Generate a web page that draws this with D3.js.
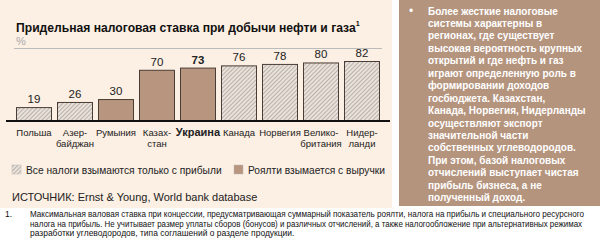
<!DOCTYPE html>
<html>
<head>
<meta charset="utf-8">
<script src="https://cdn.jsdelivr.net/npm/d3@7"></script>
<style>
  body { margin: 0; background: #fff; }
  svg { display: block; font-family: "Liberation Sans", Arial, sans-serif; }
</style>
</head>
<body>
<svg id="chart" width="600" height="245"></svg>
<script>
// chart data
const countries = ["Польша", "Азер-|байджан", "Румыния", "Казах-|стан", "Украина", "Канада", "Норвегия", "Велико-|британия", "Нидер-|ланди"]
const values = [19, 26, 30, 70, 73, 76, 78, 80, 82]
const royalty = [false, false, true, true, true, false, false, false, false]
const highlight = "Украина"

const legendLabels = ["Все налоги взымаются только с прибыли", "Роялти взымается с выручки"]
const titleText = "Придельная налоговая ставка при добычи нефти и газа"
const sourceText = "ИСТОЧНИК: Ernst & Young, World bank database"

const sideText = [
    "Более жесткие налоговые",
    "системы характерны в",
    "регионах, где существует",
    "высокая вероятность крупных",
    "открытий и где нефть и газ",
    "играют определенную роль в",
    "формировании доходов",
    "госбюджета. Казахстан,",
    "Канада, Норвегия, Нидерланды",
    "осуществляют экспорт",
    "значительной части",
    "собственных углеводородов.",
    "При этом, базой налоговых",
    "отчислений выступает чистая",
    "прибыль бизнеса, а не",
    "полученный доход."
]

const footnote = [
    "Максимальная валовая ставка при концессии, предусматривающая суммарный показатель роялти, налога на прибыль и специального ресурсного",
    "налога на прибыль. Не учитывает размер уплаты сборов (бонусов) и различных отчислений, а также налогообложение при альтернативных режимах",
    "разработки углеводородов, типа соглашений о разделе продукции."
]

const brown = "#b5947e"
const svg = d3.select("#chart")

// squeeze a text horizontally so it is `w` wide, anchored at (x, y)
function fit(sel, x, y, w) {
    sel.each(function() {
        const len = this.getComputedTextLength()
        const sx = Math.min(1, w / len)
        d3.select(this).attr("x", 0).attr("y", 0)
            .attr("transform", `translate(${x},${y}) scale(${sx},1)`)
    })
}

// hatch pattern for profit-only bars
const defs = svg.append("defs")
const pat = defs.append("pattern")
    .attr("id", "hatch")
    .attr("patternUnits", "userSpaceOnUse")
    .attr("width", 3).attr("height", 3)
    .attr("patternTransform", "rotate(45)")
pat.append("rect").attr("width", 3).attr("height", 3).attr("fill", "#e9e2da")
pat.append("line").attr("x1", 0).attr("y1", 0).attr("x2", 0).attr("y2", 3)
    .attr("stroke", "#8a817a").attr("stroke-width", 1)

// panels
svg.append("rect").attr("x", 0).attr("y", 0).attr("width", 392).attr("height", 208).attr("fill", "#fcefe3")
svg.append("rect").attr("x", 399).attr("y", 0).attr("width", 201).attr("height", 206).attr("fill", brown)

// title
const title = svg.append("text")
    .attr("font-size", 13.5).attr("font-weight", "bold").attr("fill", "#111")
title.append("tspan").text(titleText)
title.append("tspan").attr("font-size", 8).attr("dy", -6).text("1")
fit(title, 16, 32, 344)

svg.append("text").attr("x", 16).attr("y", 45).attr("font-size", 11).attr("fill", "#aaa").text("%")
svg.append("line").attr("x1", 14).attr("x2", 382).attr("y1", 48.5).attr("y2", 48.5)
    .attr("stroke", "#bbb").attr("stroke-width", 1)

// scales
const x = d3.scaleBand().domain(countries).range([13.5, 382.5]).paddingInner(0.122).paddingOuter(0.061)
const y = d3.scaleLinear().domain([0, 82]).range([121, 61])

const data = countries.map((c, i) => ({ c, v: values[i], r: royalty[i] }))

svg.append("g").selectAll("rect")
    .data(data)
    .join("rect")
    .attr("x", d => x(d.c) + 0.5)
    .attr("y", d => y(d.v) + 0.5)
    .attr("width", x.bandwidth() - 1)
    .attr("height", d => y(0) - y(d.v))
    .attr("fill", d => d.r ? "#b8957f" : "url(#hatch)")
    .attr("stroke", "#4a3d35")
    .attr("stroke-width", 1)

svg.append("g").selectAll("text")
    .data(data)
    .join("text")
    .attr("x", d => x(d.c) + x.bandwidth() / 2)
    .attr("y", d => y(d.v) - 4)
    .attr("text-anchor", "middle")
    .attr("font-size", 11.5)
    .attr("font-weight", d => d.c === highlight ? "bold" : null)
    .attr("fill", "#222")
    .text(d => d.v)

// baseline axis
const axis = svg.append("g")
    .attr("transform", `translate(0,${y(0)})`)
    .call(d3.axisBottom(x).tickSize(0).tickFormat(""))
axis.select(".domain").attr("d", "M6,0H390").attr("stroke", "#111").attr("stroke-width", 2)

// category labels
const lab = svg.append("g").selectAll("text")
    .data(data)
    .join("text")
    .attr("x", d => x(d.c) + x.bandwidth() / 2)
    .attr("y", 136)
    .attr("text-anchor", "middle")
    .attr("font-size", d => d.c === highlight ? 11 : 9.5)
    .attr("font-weight", d => d.c === highlight ? "bold" : null)
    .attr("fill", "#222")
lab.selectAll("tspan")
    .data(d => d.c.split("|").map((t, i) => ({ t, i, x: x(d.c) + x.bandwidth() / 2 })))
    .join("tspan")
    .attr("x", t => t.x)
    .attr("dy", t => t.i ? 11 : 0)
    .text(t => t.t)

// legend
const legend = [
    { label: legendLabels[0], fill: "url(#hatch)", x: 12, w: 196 },
    { label: legendLabels[1], fill: "#b8957f", x: 234, w: 137 }
]
const lg = svg.append("g").selectAll("g").data(legend).join("g")
lg.append("rect").attr("x", d => d.x).attr("y", 165).attr("width", 9).attr("height", 9)
    .attr("fill", d => d.fill).attr("stroke", "#bbb").attr("stroke-width", 0.5)
lg.append("text")
    .attr("font-size", 11).attr("fill", "#222")
    .text(d => d.label)
    .each(function(d) { fit(d3.select(this), d.x + 14, 173.5, d.w) })

svg.append("text").attr("x", 12).attr("y", 201).attr("font-size", 11).attr("fill", "#222").text(sourceText)

// side note
svg.append("text").attr("x", 409).attr("y", 15).attr("font-size", 12).attr("fill", "#fff").text("•")
svg.append("g").selectAll("text")
    .data(sideText)
    .join("text")
    .attr("x", 428)
    .attr("y", (d, i) => 14.5 + i * 12.45)
    .attr("font-size", 10)
    .attr("font-weight", "bold")
    .attr("fill", "#fff")
    .text(d => d)

// footnote
svg.append("text").attr("x", 5).attr("y", 217).attr("font-size", 8.5).attr("fill", "#111").text("1.")
const fnWidths = [555, 553, 265]
svg.append("g").selectAll("text")
    .data(footnote)
    .join("text")
    .attr("font-size", 8.5)
    .attr("fill", "#111")
    .text(d => d)
    .each(function(d, i) { fit(d3.select(this), 30, 217 + i * 9.5, fnWidths[i]) })
</script>
</body>
</html>
